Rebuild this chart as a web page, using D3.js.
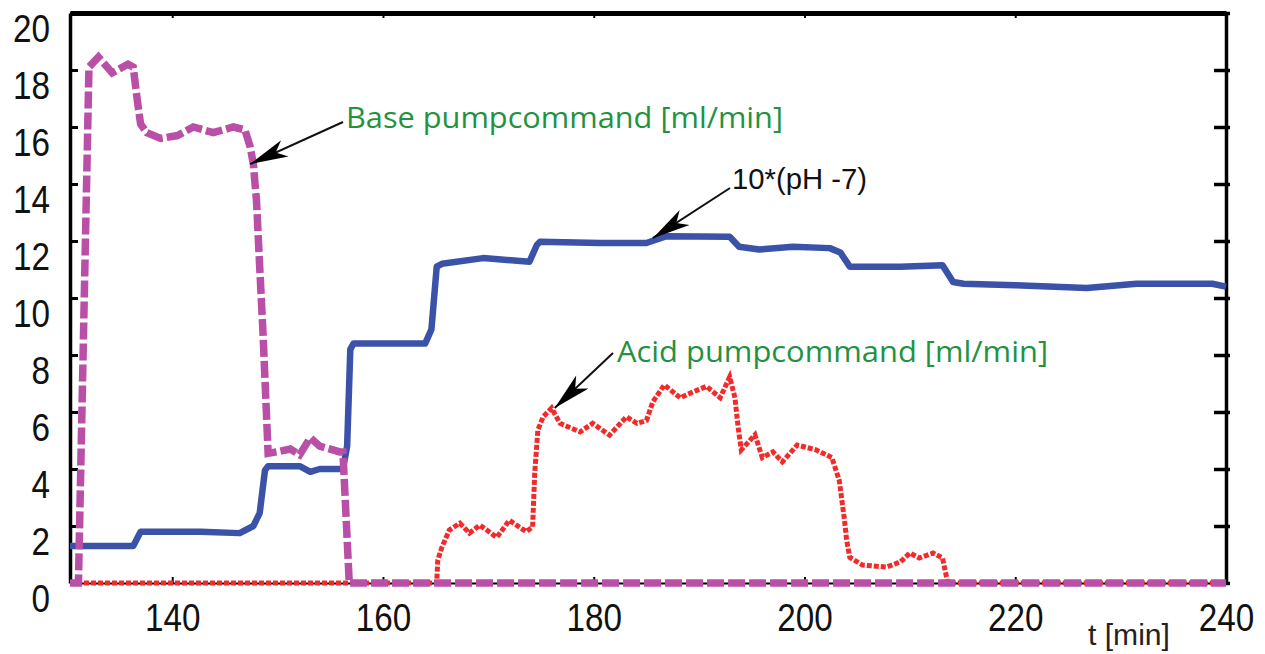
<!DOCTYPE html>
<html>
<head>
<meta charset="utf-8">
<script src="https://cdn.jsdelivr.net/npm/d3@7"></script>
<style>
  body { margin: 0; background: #fff; }
  svg { display: block; }
</style>
</head>
<body>
<div id="chart"></div>
<script>
// pH control run: base / acid pump commands and scaled pH

const xTicks = [140, 160, 180, 200, 220, 240];
const yTicks = [0, 2, 4, 6, 8, 10, 12, 14, 16, 18, 20];

// [t (min), value]
const basePump = [
  [130.3, 0], [131.1, 0], [132.1, 18.1], [133.0, 18.45], [134.3, 17.9], [135.8, 18.2],
  [136.3, 18.1], [136.7, 16.9], [137.0, 16.1], [137.6, 15.8], [138.9, 15.6], [140.5, 15.7],
  [142.0, 16.0], [143.9, 15.8], [145.8, 16.0], [146.9, 15.9], [147.4, 15.3], [147.7, 14.7],
  [148.0, 13.4], [148.3, 11.1], [148.6, 8.9], [149.1, 4.55], [149.9, 4.6], [151.2, 4.7],
  [152.1, 4.5], [153.1, 5.1], [154.0, 4.8], [155.0, 4.7], [155.9, 4.6], [156.2, 4.6],
  [156.8, 0], [240, 0]
];

const phScaled = [
  [130.3, 1.3], [136.3, 1.3], [137.0, 1.8], [142.7, 1.8], [146.4, 1.75], [147.7, 2.0],
  [148.3, 2.45], [148.8, 3.95], [149.1, 4.1], [152.1, 4.1], [153.1, 3.9], [154.0, 4.0],
  [156.2, 4.0], [156.6, 4.8], [156.9, 8.2], [157.2, 8.4], [164.0, 8.4], [164.6, 8.9],
  [165.1, 11.1], [165.6, 11.2], [169.5, 11.4], [173.9, 11.27], [174.6, 11.86], [174.9, 11.97],
  [180.6, 11.93], [185.0, 11.93], [186.9, 12.17], [192.9, 12.15], [193.8, 11.8], [195.7, 11.7],
  [198.9, 11.8], [202.4, 11.75], [203.4, 11.6], [204.3, 11.1], [209.1, 11.1], [213.1, 11.15],
  [214.1, 10.56], [215.1, 10.5], [220.0, 10.45], [226.8, 10.35], [231.5, 10.5], [238.7, 10.5],
  [240, 10.4]
];

const acidPump = [
  [130.3, 0], [165.1, 0], [165.2, 0.8], [165.6, 1.26], [166.3, 1.86], [167.3, 2.1],
  [168.2, 1.75], [169.2, 2.03], [170.8, 1.6], [172.0, 2.2], [173.6, 1.8], [174.2, 1.97],
  [174.4, 3.86], [174.7, 5.37], [175.2, 5.83], [176.0, 6.14], [176.8, 5.6], [178.7, 5.3],
  [179.9, 5.6], [181.5, 5.19], [183.1, 5.83], [184.1, 5.6], [185.0, 5.7], [185.6, 6.35],
  [186.7, 6.95], [188.2, 6.5], [189.4, 6.7], [190.7, 6.9], [192.0, 6.5], [192.9, 7.23],
  [193.4, 6.5], [193.7, 5.47], [194.0, 4.67], [195.3, 5.2], [196.0, 4.4], [197.0, 4.6],
  [197.9, 4.25], [199.3, 4.84], [201.1, 4.67], [202.6, 4.4], [203.3, 3.6], [203.8, 2.2],
  [204.0, 1.5], [204.3, 0.9], [205.5, 0.63], [207.8, 0.56], [209.1, 0.74], [210.0, 1.05],
  [210.9, 0.88], [212.2, 1.05], [213.1, 0.88], [213.5, 0.17], [213.6, 0], [240, 0]
];

const labels = [
  { text: 'Base pumpcommand [ml/min]', tip: [147.4, 14.7] },
  { text: '10*(pH -7)', tip: [185.6, 12.1] },
  { text: 'Acid pumpcommand [ml/min]', tip: [176.3, 6.14] }
];

const width = 1265;
const height = 654;

const svg = d3.select('#chart')
  .append('svg')
  .attr('width', width)
  .attr('height', height);

const x = d3.scaleLinear().domain([130.3, 240]).range([70, 1226]);
const y = d3.scaleLinear().domain([0, 20]).range([583, 13]);

const tickFont = '"Liberation Sans", Arial, sans-serif';
const digitW = 18.5; // narrow digits as in the original

// axes
const gLeft = svg.append('g')
  .attr('transform', `translate(${x.range()[0]},0)`)
  .call(d3.axisLeft(y).tickValues(yTicks).tickSize(-8).tickSizeOuter(0).tickPadding(20));
gLeft.select('.domain').attr('stroke-width', 3.5);
gLeft.selectAll('.tick line').attr('stroke-width', 3);
gLeft.selectAll('.tick text')
  .attr('dy', '0.72em')
  .attr('textLength', d => String(d).length * digitW)
  .attr('lengthAdjust', 'spacingAndGlyphs')
  .style('font-family', tickFont)
  .style('font-size', '39px')
  .attr('fill', '#111');

const gBottom = svg.append('g')
  .attr('transform', `translate(0,${y.range()[0]})`)
  .call(d3.axisBottom(x).tickValues(xTicks).tickSize(-6).tickSizeOuter(0).tickPadding(20));
gBottom.select('.domain').attr('stroke-width', 2);
gBottom.selectAll('.tick line').attr('stroke-width', 2);
gBottom.selectAll('.tick text')
  .attr('textLength', d => String(d).length * digitW)
  .attr('lengthAdjust', 'spacingAndGlyphs')
  .style('font-family', tickFont)
  .style('font-size', '39px')
  .attr('fill', '#111');

const gTop = svg.append('g')
  .attr('transform', `translate(0,${y.range()[1]})`)
  .call(d3.axisTop(x).tickValues(xTicks).tickSize(-5).tickSizeOuter(0).tickFormat(''));
gTop.select('.domain').attr('stroke-width', 5);
gTop.selectAll('.tick line').attr('stroke-width', 2);

const gRight = svg.append('g')
  .attr('transform', `translate(${x.range()[1]},0)`)
  .call(d3.axisRight(y).tickValues(yTicks).tickSize(-12).tickSizeOuter(0).tickFormat(''));
gRight.select('.domain').attr('stroke-width', 3.5);
gRight.selectAll('.tick line').attr('stroke-width', 3.5).attr('x2', -12).attr('x1', 4);

svg.append('text')
  .attr('x', 1088)
  .attr('y', 645)
  .attr('textLength', 82)
  .attr('lengthAdjust', 'spacingAndGlyphs')
  .style('font-family', tickFont)
  .style('font-size', '29px')
  .attr('fill', '#222')
  .text('t [min]');

// series
const line = d3.line()
  .x(d => x(d[0]))
  .y(d => y(d[1]));

svg.append('path')
  .datum(acidPump)
  .attr('d', line)
  .attr('fill', 'none')
  .attr('stroke', '#f22a2a')
  .attr('stroke-width', 5)
  .attr('stroke-dasharray', '5,2');

svg.append('path')
  .datum(phScaled)
  .attr('d', line)
  .attr('fill', 'none')
  .attr('stroke', '#3a52a8')
  .attr('stroke-width', 6.5)
  .attr('stroke-linejoin', 'round');

svg.append('path')
  .datum(basePump)
  .attr('d', line)
  .attr('fill', 'none')
  .attr('stroke', '#b94fa6')
  .attr('stroke-width', 7.5)
  .attr('stroke-dasharray', '17,4');

// annotations
svg.append('defs').append('marker')
  .attr('id', 'arrowhead')
  .attr('viewBox', '0 -9 40 18')
  .attr('refX', 0)
  .attr('refY', 0)
  .attr('orient', 'auto')
  .attr('markerUnits', 'userSpaceOnUse')
  .attr('markerWidth', 40)
  .attr('markerHeight', 18)
  .append('path')
  .attr('d', 'M 0,0 L 38,-9 L 28,0 L 38,9 Z')
  .attr('fill', '#000');

// label placement (pixels): text start, baseline, width, arrow start
const labelLayout = [
  { tx: 346, ty: 128, w: 437, size: 30, color: '#23923f', font: '"Open Sans", "DejaVu Sans", sans-serif', ax: 343, ay: 122 },
  { tx: 732, ty: 189, w: 135, size: 30, color: '#111', font: tickFont, ax: 730, ay: 188 },
  { tx: 617, ty: 362, w: 431, size: 30, color: '#23923f', font: '"Open Sans", "DejaVu Sans", sans-serif', ax: 613, ay: 353 }
];

labels.forEach((d, i) => {
  const l = labelLayout[i];
  svg.append('line')
    .attr('x1', x(d.tip[0]))
    .attr('y1', y(d.tip[1]))
    .attr('x2', l.ax)
    .attr('y2', l.ay)
    .attr('stroke', '#111')
    .attr('stroke-width', 2)
    .attr('marker-start', 'url(#arrowhead)');

  svg.append('text')
    .attr('x', l.tx)
    .attr('y', l.ty)
    .attr('textLength', l.w)
    .attr('lengthAdjust', 'spacingAndGlyphs')
    .style('font-family', l.font)
    .style('font-size', l.size + 'px')
    .attr('fill', l.color)
    .text(d.text);
});
</script>
</body>
</html>
